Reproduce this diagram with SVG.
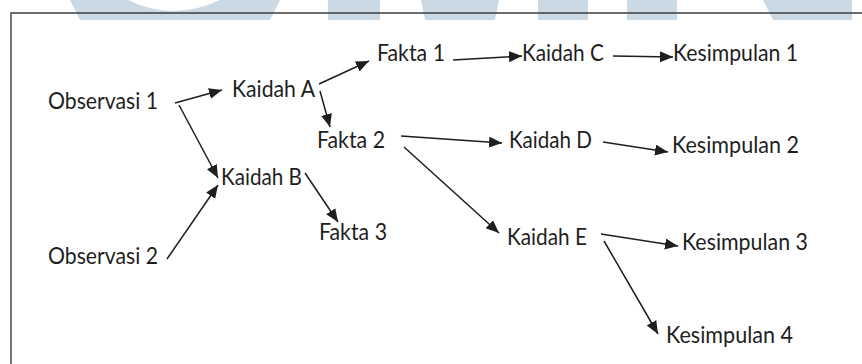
<svg xmlns="http://www.w3.org/2000/svg" width="862" height="364" viewBox="0 0 862 364">
  <style>
    .lbl { font-family: Lato, "Liberation Sans", sans-serif; font-size: 22.5px; fill: #1e1e1e; }
    .edge { stroke: #1e1e1e; stroke-width: 1.5; fill: none; marker-end: url(#head); }
    .mark { fill: #cbd9e5; }
  </style>
  <defs>
    <marker id="head" markerUnits="userSpaceOnUse" markerWidth="14" markerHeight="12" refX="13" refY="5.5" orient="auto">
      <path d="M0,0 L13,5.5 L0,11 Z" fill="#1e1e1e"/>
    </marker>
    <clipPath id="band">
      <rect x="0" y="0" width="862" height="20"/>
    </clipPath>
  </defs>

  <rect width="862" height="364" fill="#ffffff"/>

  <!-- faint lettering band along the top edge -->
  <g id="banner" clip-path="url(#band)">
    <path class="mark" d="M70,0 L280,0 L270,20 L80,20 Z M128,0 Q173,22 220,0 Z" fill-rule="evenodd"/>
    <rect class="mark" x="328" y="0" width="52" height="20"/>
    <path class="mark" d="M421,0 L499,0 L495,20 L425,20 Z"/>
    <rect class="mark" x="538" y="0" width="50" height="20"/>
    <rect class="mark" x="627" y="0" width="50" height="20"/>
    <path class="mark" d="M763,0 L852,0 L852,20 L773,20 Z"/>
  </g>

  <!-- frame -->
  <g id="frame" stroke="#3c3c3c" stroke-width="1.4" fill="none">
    <path d="M11,364 L11,13 L862,13"/>
  </g>

  <!-- connectors -->
  <g id="connectors">
    <line class="edge" x1="175" y1="103" x2="222" y2="90"/>
    <line class="edge" x1="179" y1="105" x2="218" y2="178"/>
    <line class="edge" x1="167" y1="259" x2="218" y2="185"/>
    <line class="edge" x1="319" y1="84" x2="369" y2="61"/>
    <line class="edge" x1="320" y1="91" x2="330" y2="127"/>
    <line class="edge" x1="305" y1="173" x2="338" y2="222"/>
    <line class="edge" x1="453" y1="60" x2="522" y2="56"/>
    <line class="edge" x1="613" y1="56" x2="673" y2="57"/>
    <line class="edge" x1="401" y1="136" x2="502" y2="143"/>
    <line class="edge" x1="603" y1="142" x2="668" y2="152"/>
    <line class="edge" x1="404" y1="147" x2="499" y2="233"/>
    <line class="edge" x1="601" y1="234" x2="678" y2="246"/>
    <line class="edge" x1="604" y1="241" x2="658" y2="334"/>
  </g>

  <!-- nodes -->
  <g id="observasi1"><text class="lbl" x="48" y="109" textLength="110" lengthAdjust="spacingAndGlyphs">Observasi 1</text></g>
  <g id="observasi2"><text class="lbl" x="48" y="264" textLength="110" lengthAdjust="spacingAndGlyphs">Observasi 2</text></g>
  <g id="kaidahA"><text class="lbl" x="232" y="97" textLength="83" lengthAdjust="spacingAndGlyphs">Kaidah A</text></g>
  <g id="kaidahB"><text class="lbl" x="221" y="185" textLength="81" lengthAdjust="spacingAndGlyphs">Kaidah B</text></g>
  <g id="fakta1"><text class="lbl" x="377" y="61" textLength="68" lengthAdjust="spacingAndGlyphs">Fakta 1</text></g>
  <g id="fakta2"><text class="lbl" x="317" y="148" textLength="68" lengthAdjust="spacingAndGlyphs">Fakta 2</text></g>
  <g id="fakta3"><text class="lbl" x="319" y="240" textLength="68" lengthAdjust="spacingAndGlyphs">Fakta 3</text></g>
  <g id="kaidahC"><text class="lbl" x="522" y="61" textLength="82" lengthAdjust="spacingAndGlyphs">Kaidah C</text></g>
  <g id="kaidahD"><text class="lbl" x="509" y="148" textLength="83" lengthAdjust="spacingAndGlyphs">Kaidah D</text></g>
  <g id="kaidahE"><text class="lbl" x="507" y="245" textLength="80" lengthAdjust="spacingAndGlyphs">Kaidah E</text></g>
  <g id="kesimpulan1"><text class="lbl" x="673" y="61" textLength="125" lengthAdjust="spacingAndGlyphs">Kesimpulan 1</text></g>
  <g id="kesimpulan2"><text class="lbl" x="672" y="153" textLength="127" lengthAdjust="spacingAndGlyphs">Kesimpulan 2</text></g>
  <g id="kesimpulan3"><text class="lbl" x="682" y="250" textLength="126" lengthAdjust="spacingAndGlyphs">Kesimpulan 3</text></g>
  <g id="kesimpulan4"><text class="lbl" x="666" y="343" textLength="127" lengthAdjust="spacingAndGlyphs">Kesimpulan 4</text></g>
</svg>
